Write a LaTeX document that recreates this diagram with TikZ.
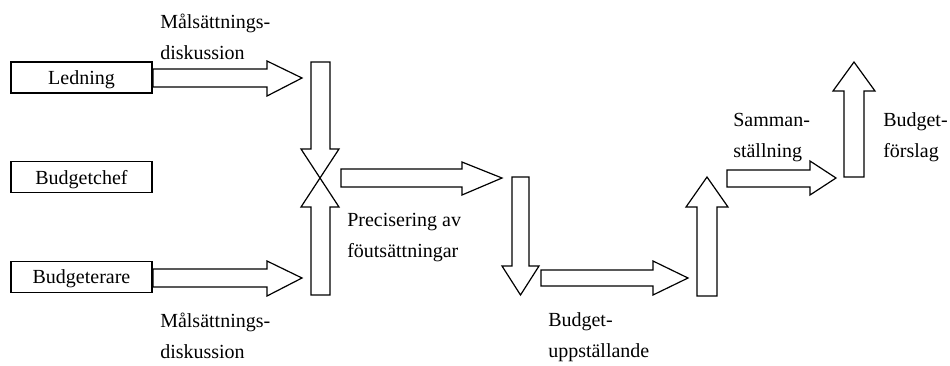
\documentclass[tikz,border=0pt]{standalone}
\usepackage{fontspec}
\setmainfont{Liberation Serif}
\usepackage{tikz}

\begin{document}
\begin{tikzpicture}[x=.75pt,y=-.75pt,
  blk/.style={draw,line width=.9pt,line join=miter},
  box/.style={draw,line width=.9pt,minimum width=105.75pt,minimum height=23.25pt,inner sep=0,text depth=0pt},
  lbl/.style={anchor=base west,align=left,inner sep=0}]
\useasboundingbox (0,0) rectangle (950,365);
\tikzset{every node/.append style={font=\fontsize{15}{23.25}\selectfont}}
\node[box] (ledning) at (81.5,77.5) {Ledning};
\node[box] (chef) at (81.5,177) {Budgetchef};
\node[box] (budgeterare) at (81.5,277) {Budgeterare};
% arrows into the crossing
\draw[blk] (153,69)--(267,69)--(267,61)--(302,78)--(267,96)--(267,87)--(153,87)--cycle;
\draw[blk] (153,269)--(267,269)--(267,261)--(302,278)--(267,296)--(267,287)--(153,287)--cycle;
\draw[blk] (311,62)--(330,62)--(330,149)--(339,149)--(320,178)--(301,149)--(311,149)--cycle;
\draw[blk] (311,295)--(330,295)--(330,207)--(339,207)--(320,178)--(301,207)--(311,207)--cycle;
% the steps
\draw[blk] (341,169)--(462,169)--(462,162)--(502,178)--(462,195)--(462,187)--(341,187)--cycle;
\draw[blk] (512,177)--(529,177)--(529,266)--(539,266)--(520.5,295)--(502,266)--(512,266)--cycle;
\draw[blk] (541,270)--(653,270)--(653,261)--(688,278)--(653,295)--(653,286)--(541,286)--cycle;
\draw[blk] (697,296)--(717,296)--(717,207)--(728,207)--(707,177)--(686,207)--(697,207)--cycle;
\draw[blk] (727,170)--(810,170)--(810,161)--(836,178)--(810,195)--(810,187)--(727,187)--cycle;
\draw[blk] (844,177)--(864,177)--(864,91)--(875,91)--(854,62)--(833,91)--(844,91)--cycle;
% labels (base = last line)
\node[lbl] (maltop) at (160,59) {Målsättnings-\\diskussion};
\node[lbl] (malbot) at (160,358) {Målsättnings-\\diskussion};
\node[lbl] (prec) at (347,257) {Precisering av\\föutsättningar};
\node[lbl] (uppst) at (548,357) {Budget-\\uppställande};
\node[lbl] (samman) at (733,157) {Samman-\\ställning};
\node[lbl] (forslag) at (883,157) {Budget-\\förslag};
\end{tikzpicture}
\end{document}
